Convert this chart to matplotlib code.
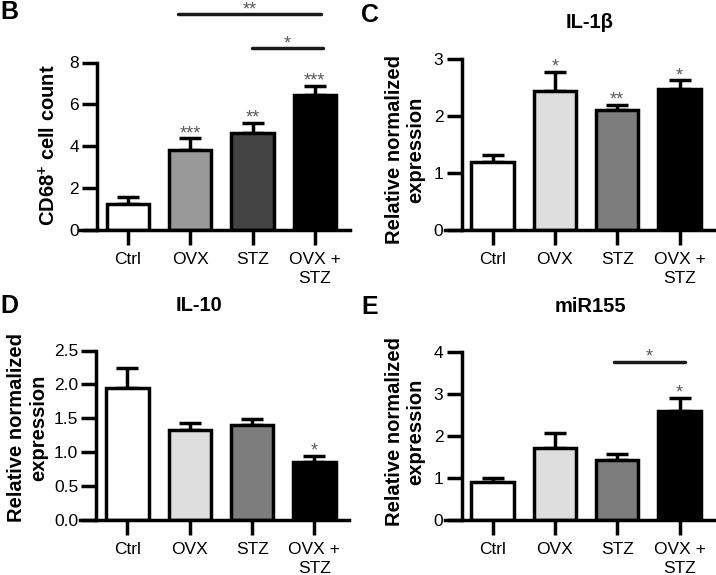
import numpy as np
import matplotlib
matplotlib.use("Agg")
import matplotlib.pyplot as plt

plt.rcParams['font.family'] = ['Liberation Sans', 'DejaVu Sans']
plt.rcParams['mathtext.fontset'] = 'custom'
plt.rcParams['mathtext.rm'] = 'Liberation Sans'
plt.rcParams['mathtext.bf'] = 'Liberation Sans:bold'

groups = ['Ctrl', 'OVX', 'STZ', 'OVX +\nSTZ']

# panel B: CD68+ cell count
cd68_mean = [1.22, 3.80, 4.63, 6.43]
cd68_sem = [0.36, 0.58, 0.50, 0.46]
cd68_stars = ['', '***', '**', '***']

# panel C: IL-1b
il1b_mean = [1.19, 2.43, 2.10, 2.48]
il1b_sem = [0.13, 0.35, 0.10, 0.15]
il1b_stars = ['', '*', '**', '*']

# panel D: IL-10
il10_mean = [1.95, 1.33, 1.40, 0.86]
il10_sem = [0.29, 0.10, 0.09, 0.09]
il10_stars = ['', '', '', '*']

# panel E: miR155
mir155_mean = [0.91, 1.71, 1.43, 2.58]
mir155_sem = [0.10, 0.35, 0.15, 0.33]
mir155_stars = ['', '', '', '*']

colors_b = ['white', '#999999', '#444444', 'black']
colors_rest = ['white', '#dedede', '#7d7d7d', 'black']

LW = 2.5
TICK_FS = 12.5
LAB_FS = 14.5
STAR_FS = 13

fig = plt.figure(figsize=(7.16, 5.75), dpi=100)

W, H = 716, 575


def make_ax(left_px, top_px, bottom_px):
    width_px = 4.33 * 62.3
    return fig.add_axes([left_px / W, 1 - bottom_px / H, width_px / W,
                         (bottom_px - top_px) / H])


def star(ax, x, y, label):
    ax.annotate(label, (x, y), xytext=(0, -3), textcoords='offset points',
                ha='center', va='bottom', fontsize=STAR_FS, color='#5a5a5a',
                annotation_clip=False)


def bar_panel(ax, means, sems, stars, colors, ymax, yticks, yfmt):
    x = np.arange(len(groups))
    ax.bar(x, means, width=0.68, color=colors, edgecolor='black',
           linewidth=LW, zorder=2)
    ax.errorbar(x, means, yerr=[np.zeros(len(sems)), sems], fmt='none',
                ecolor='black', elinewidth=LW, capsize=8, capthick=LW,
                zorder=1)
    for xi, m, s, st in zip(x, means, sems, stars):
        if st:
            star(ax, xi, m + s, st)
    ax.set_xlim(-0.77, 3.56)
    ax.set_ylim(0, ymax)
    ax.set_yticks(yticks)
    ax.set_yticklabels([yfmt.format(t) for t in yticks])
    ax.set_xticks(x)
    ax.set_xticklabels(groups, fontsize=TICK_FS, linespacing=1.3)
    ax.spines['top'].set_visible(False)
    ax.spines['right'].set_visible(False)
    ax.spines['left'].set_position(('data', -0.5))
    ax.spines['left'].set_linewidth(LW)
    ax.spines['bottom'].set_linewidth(LW)
    ax.tick_params(axis='both', direction='out', length=11, width=LW,
                   labelsize=TICK_FS, pad=2)
    ax.tick_params(axis='x', pad=5)


def sig_line(ax, x0, x1, y, label):
    ax.plot([x0, x1], [y, y], color='#1a1a1a', lw=LW, clip_on=False,
            solid_capstyle='round')
    star(ax, (x0 + x1) / 2, y, label)


# B
axB = make_ax(80, 62.5, 230)
bar_panel(axB, cd68_mean, cd68_sem, cd68_stars, colors_b, 8, [0, 2, 4, 6, 8], '{:d}')
sig_line(axB, 0.80, 3.10, 10.3, '**')
sig_line(axB, 1.99, 3.13, 8.67, '*')

# C
axC = make_ax(444.7, 59, 230)
bar_panel(axC, il1b_mean, il1b_sem, il1b_stars, colors_rest, 3, [0, 1, 2, 3], '{:d}')

# D
axD = make_ax(79.5, 350.5, 520)
bar_panel(axD, il10_mean, il10_sem, il10_stars, colors_rest, 2.5,
          [0.0, 0.5, 1.0, 1.5, 2.0, 2.5], '{:.1f}')

# E
axE = make_ax(444.7, 351.7, 520)
bar_panel(axE, mir155_mean, mir155_sem, mir155_stars, colors_rest, 4, [0, 1, 2, 3, 4], '{:d}')
sig_line(axE, 1.94, 3.09, 3.76, '*')

# y labels
fig.text(49 / W, 1 - 145 / H, r'CD68$^{\mathbf{+}}$ cell count', rotation=90,
         ha='center', va='center', fontsize=LAB_FS, fontweight='bold')
ylab = 'Relative normalized\nexpression'
for (xp, yp) in [(405, 150), (28, 428), (405, 432)]:
    fig.text(xp / W, 1 - yp / H, ylab, rotation=90, ha='center', va='center',
             fontsize=LAB_FS, fontweight='bold', linespacing=1.2)

# titles
fig.text(590 / W, 1 - 22 / H, 'IL-1β', ha='center', va='center', fontsize=LAB_FS,
         fontweight='bold')
fig.text(199 / W, 1 - 305.5 / H, 'IL-10', ha='center', va='center', fontsize=LAB_FS,
         fontweight='bold')
fig.text(590 / W, 1 - 307 / H, 'miR155', ha='center', va='center', fontsize=LAB_FS,
         fontweight='bold')

# panel letters
for lab, xp, yp in [('B', 0, 0), ('C', 361, 3), ('D', 0, 294), ('E', 361, 295)]:
    fig.text(xp / W, 1 - yp / H, lab, ha='left', va='top', fontsize=18,
             fontweight='bold')

fig.savefig('out.png', dpi=100)
